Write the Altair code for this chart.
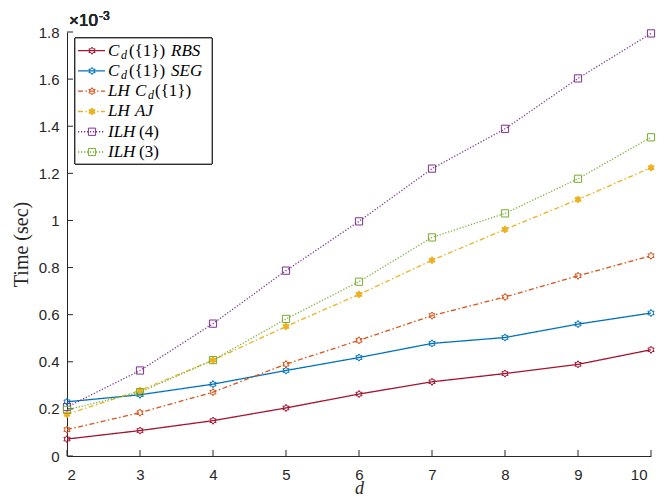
import math
import altair as alt
import pandas as pd

# ---------------- data ----------------
d_values = [2, 3, 4, 5, 6, 7, 8, 9, 10]
series_names = ["RBS", "SEG", "LHCd", "LHAJ", "ILH4", "ILH3"]
rbs = [0.072, 0.108, 0.150, 0.204, 0.263, 0.315, 0.350, 0.389, 0.451]
seg = [0.230, 0.260, 0.305, 0.363, 0.418, 0.478, 0.503, 0.560, 0.607]
lh_cd = [0.112, 0.184, 0.271, 0.390, 0.491, 0.596, 0.675, 0.765, 0.850]
lh_aj = [0.177, 0.278, 0.407, 0.550, 0.686, 0.831, 0.962, 1.089, 1.224]
ilh4 = [0.208, 0.363, 0.562, 0.787, 0.996, 1.220, 1.389, 1.603, 1.794]
ilh3 = [0.196, 0.271, 0.407, 0.582, 0.740, 0.928, 1.030, 1.177, 1.353]
y_ticks = [0, 0.2, 0.4, 0.6, 0.8, 1.0, 1.2, 1.4, 1.6, 1.8]
x_ticks = [2, 3, 4, 5, 6, 7, 8, 9, 10]

# legend label pieces: (row, text, x, kind)
legend_pieces = [
    (0, "C", 41, "it"), (0, "d", 54, "sub"), (0, "({1})", 62, "up"), (0, "RBS", 104, "it"),
    (1, "C", 41, "it"), (1, "d", 54, "sub"), (1, "({1})", 62, "up"), (1, "SEG", 104, "it"),
    (2, "LH", 41, "it"), (2, "C", 68, "it"), (2, "d", 81, "sub"), (2, "({1})", 88, "up"),
    (3, "LH", 41, "it"), (3, "AJ", 68, "it"),
    (4, "ILH", 41, "it"), (4, "(4)", 72, "up"),
    (5, "ILH", 41, "it"), (5, "(3)", 72, "up"),
]

# ---------------- styles ----------------
colors = ["#A2142F", "#0072BD", "#D95319", "#EDB120", "#7E2F8E", "#77AC30"]
fills = ["transparent", "transparent", "transparent", "#EDB120", "transparent", "transparent"]
dashes = [[1, 0], [1, 0], [5, 2.5, 1.5, 2.5], [5, 2.5, 1.5, 2.5], [1.2, 1.8], [1.2, 1.8]]
widths = [1.3, 1.3, 1.0, 1.0, 0.8, 0.8]
line_opac = [1, 1, 1, 0.9, 0.35, 0.35]


def star_path(n=6, r_out=1.0, r_in=0.5774):
    pts = []
    for k in range(2 * n):
        ang = -math.pi / 2 + k * math.pi / n
        r = r_out if k % 2 == 0 else r_in
        pts.append(f"{r * math.cos(ang):.3f},{r * math.sin(ang):.3f}")
    return "M" + "L".join(pts) + "Z"


hexa = star_path()
shapes = [hexa, hexa, hexa, hexa, "square", "square"]
sizes = [52, 52, 52, 52, 40, 40]

rows = []
for name, vals in zip(series_names, [rbs, seg, lh_cd, lh_aj, ilh4, ilh3]):
    for d, v in zip(d_values, vals):
        rows.append({"series": name, "d": d, "t": v})
df = pd.DataFrame(rows)

leg_df = pd.DataFrame({"series": series_names, "row": list(range(len(series_names)))})
piece_df = pd.DataFrame(legend_pieces, columns=["row", "txt", "tx", "kind"])

W, H = 584, 424
AX = "#262626"

xscale = alt.Scale(domain=[2, 10], nice=False, zero=False)
yscale = alt.Scale(domain=[0, 1.8], nice=False)
xaxis = alt.Axis(values=x_ticks, format="d", title="d", titleFontStyle="italic",
                 titleFont="Liberation Serif", titleFontSize=18, titleFontWeight="normal",
                 titleY=37, titleBaseline="alphabetic", labelPadding=11,
                 labelOffset={"condition": {"test": "datum.value == 10", "value": -4}, "value": 0})
yaxis = alt.Axis(values=y_ticks, format="~g", title="Time (sec)",
                 titleFont="Liberation Serif", titleFontSize=20, titleFontWeight="normal",
                 titlePadding=7, labelPadding=8)
x_enc = alt.X("d:Q", scale=xscale, axis=xaxis)
y_enc = alt.Y("t:Q", scale=yscale, axis=yaxis)

stroke_enc = alt.Stroke("series:N", scale=alt.Scale(domain=series_names, range=colors), legend=None)
fill_enc = alt.Fill("series:N", scale=alt.Scale(domain=series_names, range=fills), legend=None)
shape_enc = alt.Shape("series:N", scale=alt.Scale(domain=series_names, range=shapes), legend=None)
size_enc = alt.Size("series:N", scale=alt.Scale(domain=series_names, range=sizes), legend=None)
dash_enc = alt.StrokeDash("series:N", scale=alt.Scale(domain=series_names, range=dashes), legend=None)
sw_enc = alt.StrokeWidth("series:N", scale=alt.Scale(domain=series_names, range=widths), legend=None)
op_enc = alt.Opacity("series:N", scale=alt.Scale(domain=series_names, range=line_opac), legend=None)

lines = alt.Chart(df).mark_line().encode(
    x=x_enc, y=y_enc, stroke=stroke_enc, strokeDash=dash_enc, strokeWidth=sw_enc,
    opacity=op_enc, detail="series:N")

points = alt.Chart(df).mark_point(strokeWidth=1, opacity=1).encode(
    x=x_enc, y=y_enc, stroke=stroke_enc, fill=fill_enc, shape=shape_enc, size=size_enc)

yt = alt.Chart(pd.DataFrame({"t": y_ticks})).mark_rule(stroke=AX, strokeWidth=1).encode(
    y=y_enc, x=alt.value(0), x2=alt.value(6))
xt = alt.Chart(pd.DataFrame({"d": x_ticks})).mark_rule(stroke=AX, strokeWidth=1).encode(
    x=x_enc, y=alt.value(H), y2=alt.value(H - 6))

main = alt.layer(lines, yt, xt, points)

# ---------------- legend ----------------
ly = alt.Y("row:Q", scale=alt.Scale(domain=[0, 5], range=[18.7, 120]), axis=None)
lx = alt.X("tx:Q", scale=alt.Scale(domain=[0, W], range=[0, W]), axis=None)

box = alt.Chart(leg_df).mark_rect(fill="white", stroke=AX, strokeWidth=0.8).encode(
    x=alt.value(8), x2=alt.value(145), y=alt.value(6), y2=alt.value(132))
lrule = alt.Chart(leg_df).mark_rule().encode(
    x=alt.value(11), x2=alt.value(38), y=ly, stroke=stroke_enc, strokeDash=dash_enc,
    strokeWidth=sw_enc, opacity=op_enc)
lpts = alt.Chart(leg_df).mark_point(strokeWidth=1, opacity=1).encode(
    x=alt.value(25), y=ly, stroke=stroke_enc, fill=fill_enc, shape=shape_enc, size=size_enc)

t_it = alt.Chart(piece_df).transform_filter("datum.kind == 'it'").mark_text(
    font="Liberation Serif", fontStyle="italic", fontSize=17, align="left", baseline="middle",
    color="#000000").encode(x=lx, y=ly, text="txt:N")
t_up = alt.Chart(piece_df).transform_filter("datum.kind == 'up'").mark_text(
    font="Liberation Serif", fontSize=17, align="left", baseline="middle",
    color="#000000").encode(x=lx, y=ly, text="txt:N")
t_sub = alt.Chart(piece_df).transform_filter("datum.kind == 'sub'").mark_text(
    font="Liberation Serif", fontStyle="italic", fontSize=12, align="left", baseline="middle",
    dy=4, color="#000000").encode(x=lx, y=ly, text="txt:N")

exp1 = alt.Chart(leg_df).mark_text(font="Liberation Sans", fontSize=17, align="left",
                                   baseline="alphabetic", color=AX).encode(
    x=alt.value(2), y=alt.value(-6), text=alt.value("\u00d710"))
exp2 = alt.Chart(leg_df).mark_text(font="Liberation Sans", fontSize=12, align="left",
                                   baseline="alphabetic", color=AX).encode(
    x=alt.value(32), y=alt.value(-12), text=alt.value("-3"))

legend = alt.layer(box, lrule, lpts, t_it, t_up, t_sub, exp1, exp2)

chart = alt.layer(main, legend).resolve_scale(x="independent", y="independent").properties(
    width=W, height=H,
    autosize=alt.AutoSizeParams(type="none"),
    padding={"left": 59, "top": 24, "right": 5, "bottom": 40},
).configure_view(stroke=None).configure_axis(
    tickSize=0, grid=False, domainColor=AX, domainWidth=1,
    labelFont="Liberation Sans", labelFontSize=15, labelColor=AX, titleColor=AX,
)

chart.save("out.html", embed_options={"renderer": "svg", "actions": False})
